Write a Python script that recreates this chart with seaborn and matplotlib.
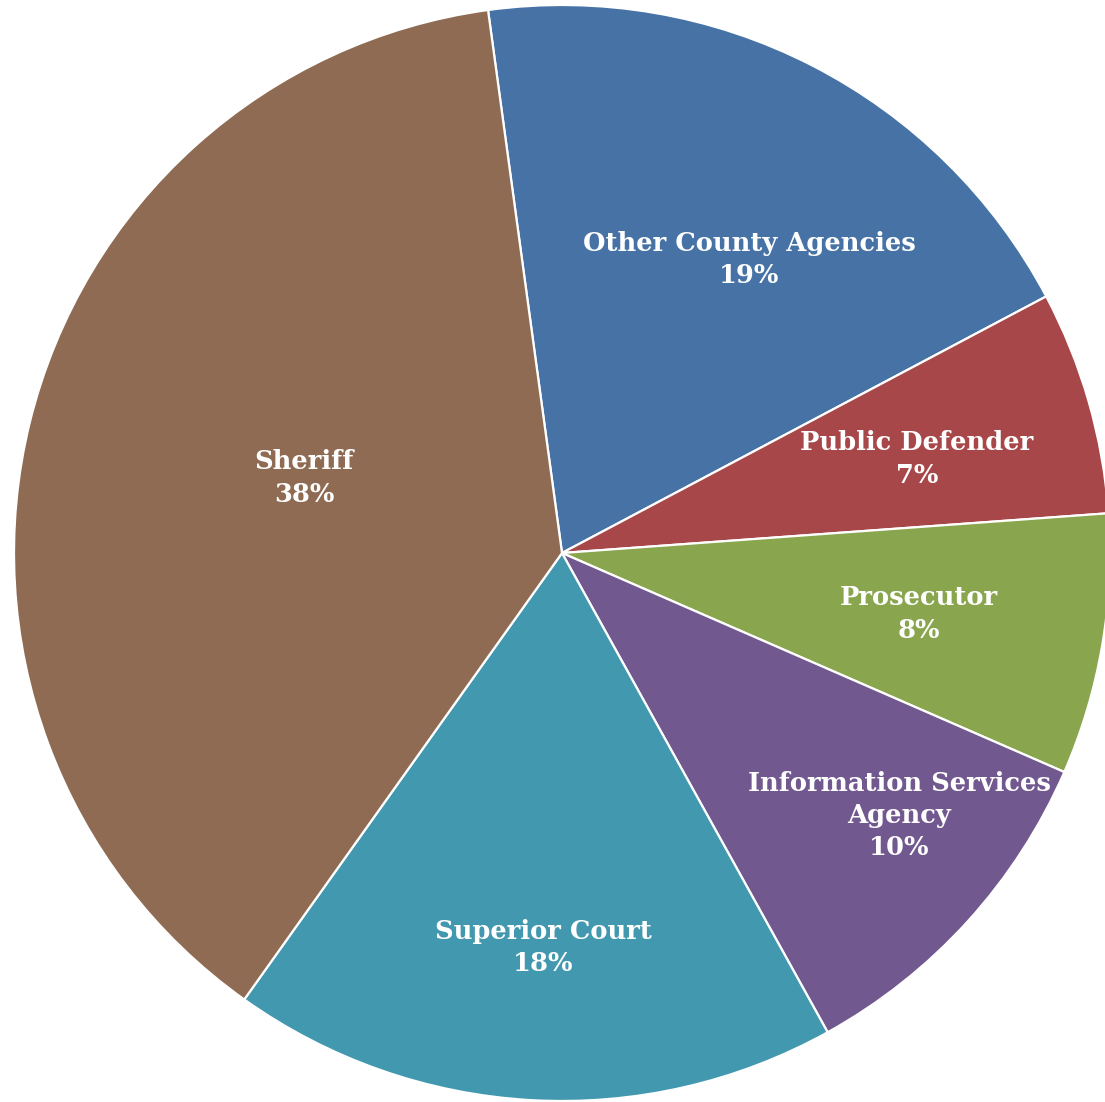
import numpy as np
import matplotlib
matplotlib.use("Agg")
import matplotlib.pyplot as plt
import seaborn as sns

# Share of county budget by department (percent)
departments = ["Other County Agencies", "Public Defender", "Prosecutor",
               "Information Services\nAgency", "Superior Court", "Sheriff"]
shares = [19.4, 6.6, 7.7, 10.4, 17.9, 38.0]
colors = ["#4672A6", "#A8474A", "#89A54E", "#71588F", "#4298AF", "#8E6B52"]

# label placement: radial fraction and angular nudge (degrees) per wedge
label_radius = [0.635, 0.67, 0.66, 0.78, 0.72, 0.49]
label_nudge = [-5.4, -1.2, 0.0, 4.4, 0.5, -2.4]

sns.set_style("white")
palette = sns.color_palette(colors)

fig = plt.figure(figsize=(11.05, 11.02), dpi=100)
ax = fig.add_axes([0, 0, 1, 1])

wedges, _ = ax.pie(shares, colors=palette, startangle=97.76, counterclock=False,
                   radius=1.0, center=(0, 0),
                   wedgeprops=dict(edgecolor="white", linewidth=1.6))

total = sum(shares)
for w, name, val, rf, nudge in zip(wedges, departments, shares, label_radius, label_nudge):
    mid = np.deg2rad((w.theta1 + w.theta2) / 2 + nudge)
    x, y = rf * np.cos(mid), rf * np.sin(mid)
    ax.text(x, y, f"{name}\n{val / total * 100:.0f}%", ha="center", va="center",
            color="white", fontsize=18.5, fontweight="bold", family="DejaVu Serif",
            linespacing=1.36)

r_px = 548.0
cx, cy = 562.0, 553.0
ax.set_xlim(-cx / r_px, (1105 - cx) / r_px)
ax.set_ylim(-(1102 - cy) / r_px, cy / r_px)
ax.set_aspect("auto")
ax.axis("off")

fig.savefig("out.png", dpi=100, facecolor="white")
